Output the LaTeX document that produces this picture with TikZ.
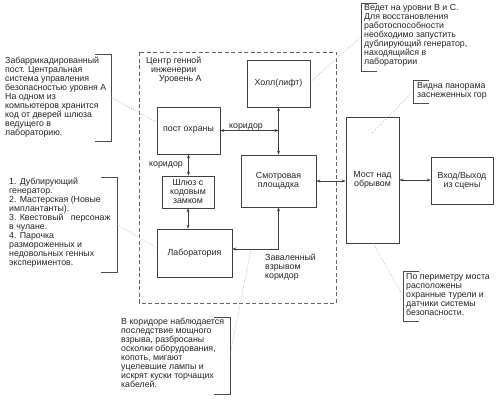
\documentclass[tikz,border=0pt]{standalone}
\usepackage{fontspec}
\setmainfont{Liberation Sans}
\usetikzlibrary{arrows.meta}
\newcommand\fsz{\fontsize{8.8bp}{9bp}\selectfont}
\tikzset{
  box/.style={draw=black!75, line width=0.7bp, inner sep=0pt, align=center, font=\fsz, text=black!85},
  conn/.style={line width=0.6bp, draw=black!75, {Stealth[length=4bp,width=3bp]}-{Stealth[length=4bp,width=3bp]}},
  leader/.style={draw=black!35, line width=0.6bp, dash pattern=on 0.7bp off 1.6bp},
  brk/.style={draw=black!70, line width=0.6bp},
  note/.style={inner sep=0pt, align=left, anchor=north west, font=\fsz, text=black!85},
  lbl/.style={inner sep=0pt, font=\fsz, text=black!85},
  zoneframe/.style={draw=black!60, line width=0.7bp, dash pattern=on 4bp off 2.5bp},
}
\begin{document}
\begin{tikzpicture}[x=1bp,y=-1bp]
\useasboundingbox[fill=white] (0,0) rectangle (500,400);
% dashed zone
\draw[zoneframe] (139,52) rectangle (336,303);
\node[note] (title) at (146,57) {Центр генной\\\hspace*{5bp}инженерии\\\hspace*{13bp}Уровень А};
% boxes
\node[box, minimum width=63bp, minimum height=47bp] (holl) at (278.5,83.5) {Холл(лифт)};
\node[box, minimum width=63bp, minimum height=47bp] (post) at (188.5,130.5) {пост охраны};
\node[box, minimum width=75bp, minimum height=52bp] (smotr) at (278.5,181) {Смотровая\\площадка};
\node[box, minimum width=52bp, minimum height=32bp] (shluz) at (188,192) {Шлюз с\\кодовым\\замком};
\node[box, minimum width=75bp, minimum height=48bp] (lab) at (194.5,253) {Лаборатория};
\node[box, minimum width=53bp, minimum height=126bp] (most) at (372.5,180) {Мост над\\обрывом};
\node[box, minimum width=62bp, minimum height=47bp] (vhod) at (462,180.5) {Вход/Выход\\из сцены};
% connectors
\draw[conn] (holl.south) -- (smotr.north);
\coordinate (j1) at (post.east -| holl.south);
\draw[conn] (post.east) -- (j1);
\draw[conn] (post.south) -- (post.south |- shluz.north);
\draw[conn] (shluz.south) -- (shluz.south |- lab.north);
\coordinate (j2) at (278.5,249);
\draw[conn] (smotr.south) -- (j2) -- (j2 -| lab.east);
\draw[conn] (smotr.east) -- (smotr.east -| most.west);
\draw[conn] (most.east) -- (most.east -| vhod.west);
% labels
\node[lbl] (k1) at (246,127) {коридор};
\node[lbl] (k2) at (166,165) {коридор};
\node[note] (zav) at (265,254) {Заваленный\\взрывом\\коридор};
% callout 1
\node[note] (n1) at (5,57) {Забаррикадированный\\пост. Центральная\\система управления\\безопасностью уровня А\\На одном из\\компьютеров хранится\\код от дверей шлюза\\ведущего в\\лабораторию.};
\draw[brk] (95,54) -- (111,54) -- (111,141) -- (95,141);
\coordinate (b1) at (111,97.5);
\draw[leader] (b1) -- ([yshift=8.5bp]post.west);
% callout 2
\node[note] (n2) at (9,178) {1. Дублирующий\\генератор.\\2. Мастерская (Новые\\имплантанты).\\3. Квестовый\ \ \ персонаж\\в чулане.\\4. Парочка\\размороженных и\\недовольных генных\\экспериментов.};
\draw[brk] (101,177) -- (117,177) -- (117,272) -- (101,272);
\coordinate (b2) at (117,224.5);
\draw[leader] (b2) -- ([yshift=5bp]lab.west);
% callout 3
\node[note] (n3) at (364,4) {Ведет на уровни В и С.\\Для восстановления\\работоспособности\\необходимо запустить\\дублирующий генератор,\\находящийся в\\лаборатории};
\draw[brk] (377,3) -- (361,3) -- (361,71) -- (377,71);
\coordinate (b3) at (361,37);
\draw[leader] (b3) -- ([yshift=1.5bp]holl.east);
% callout 4
\node[note] (n4) at (417,82) {Видна панорама\\заснеженных гор};
\draw[brk] (429,80) -- (413,80) -- (413,103) -- (429,103);
\coordinate (b4) at (413,91.5);
\coordinate (t4) at (371,134);
\draw[leader] (b4) -- (t4);
% callout 5
\node[note] (n5) at (406,273) {По периметру моста\\расположены\\охранные турели и\\датчики системы\\безопасности.};
\draw[brk] (419,271) -- (403,271) -- (403,321) -- (419,321);
\coordinate (b5) at (403,296);
\draw[leader] (b5) -- ([xshift=0.5bp]most.south);
% callout 6
\node[note] (n6) at (121,318) {В коридоре наблюдается\\последствие мощного\\взрыва, разбросаны\\осколки оборудования,\\копоть, мигают\\уцелевшие лампы и\\искрят куски торчащих\\кабелей.};
\draw[brk] (214,317) -- (230,317) -- (230,394) -- (214,394);
\coordinate (b6) at (230,355.5);
\coordinate (j3) at (251,249);
\draw[leader] (b6) -- (j3);
\end{tikzpicture}
\end{document}
